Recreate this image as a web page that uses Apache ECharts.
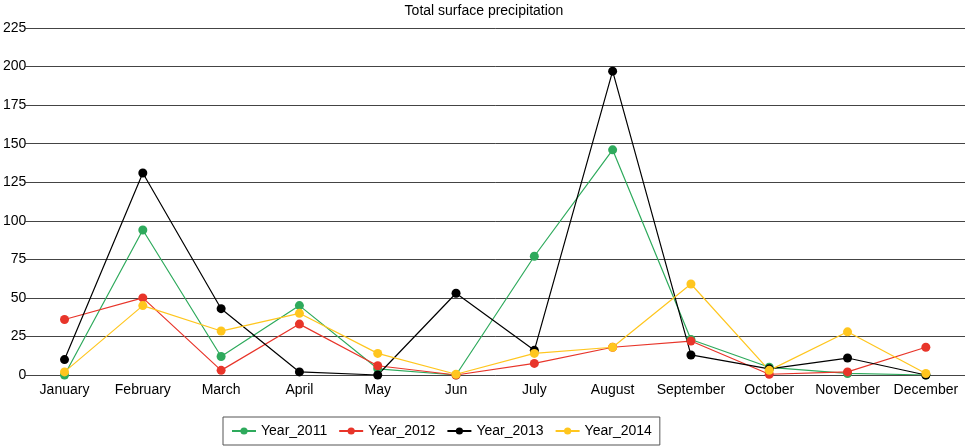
<!DOCTYPE html>
<html>
<head>
<meta charset="utf-8">
<script src="https://cdn.jsdelivr.net/npm/echarts@6/dist/echarts.min.js"></script>
<style>
html,body{margin:0;padding:0;background:#fff;}
#chart{width:968px;height:447px;}
</style>
</head>
<body>
<div id="chart"></div>
<script>
const months = ['January','February','March','April','May','Jun','July','August','September','October','November','December'];
const year2011 = [0, 94, 12, 45, 4, 0, 77, 146, 23, 5, 1, 0];
const year2012 = [36, 50, 3, 33, 6, 0, 7.5, 18, 22, 0.5, 2, 18];
const year2013 = [10, 131, 43, 2, 0, 53, 16, 197, 13, 4, 11, 0];
const year2014 = [2, 45, 28.5, 40, 14, 0.5, 14, 18, 59, 3, 28, 1];
const yTicks = [0, 25, 225];

const colors = ['#2eaa5c', '#e8352a', '#000000', '#ffc61e'];
const font = '"Liberation Sans", Arial, sans-serif';

var myChart = echarts.init(document.getElementById('chart'));

function mkSeries(name, data, color) {
	return {
		name: name,
		type: 'line',
		data: data,
		symbol: 'circle',
		symbolSize: 9,
		itemStyle: { color: color },
		lineStyle: { color: color, width: 1.2 },
		emphasis: { disabled: true },
		z: 3
	};
}

var option = {
	animation: false,
	title: {
		text: 'Total surface precipitation',
		left: 'center',
		top: -1,
		textStyle: { fontFamily: font, fontSize: 14, fontWeight: 'normal', color: '#000' }
	},
	legend: {
		left: 223,
		top: 417,
		padding: [7, 8, 7, 8],
		itemGap: 11,
		itemWidth: 24,
		itemHeight: 9,
		borderColor: '#555',
		borderWidth: 1,
		borderRadius: 0,
		textStyle: { fontFamily: font, fontSize: 14, color: '#000' },
		data: ['Year_2011', 'Year_2012', 'Year_2013', 'Year_2014']
	},
	grid: {
		left: 23,
		right: 3,
		top: 28,
		bottom: 72,
		containLabel: false
	},
	xAxis: {
		type: 'category',
		data: months,
		boundaryGap: true,
		axisLine: { show: false },
		axisTick: { show: false },
		axisLabel: {
			interval: 0,
			fontFamily: font,
			fontSize: 14,
			color: '#000',
			margin: 8
		},
		splitLine: { show: false }
	},
	yAxis: {
		type: 'value',
		min: yTicks[0],
		max: yTicks[2],
		interval: yTicks[1],
		axisLine: { show: false },
		axisTick: { show: false },
		axisLabel: {
			fontFamily: font,
			fontSize: 14,
			color: '#000',
			margin: -1,
			align: 'right'
		},
		splitLine: { show: true, lineStyle: { color: '#444', width: 1 } }
	},
	series: [
		mkSeries('Year_2011', year2011, colors[0]),
		mkSeries('Year_2012', year2012, colors[1]),
		mkSeries('Year_2013', year2013, colors[2]),
		mkSeries('Year_2014', year2014, colors[3])
	]
};
myChart.setOption(option);
</script>
</body>
</html>
